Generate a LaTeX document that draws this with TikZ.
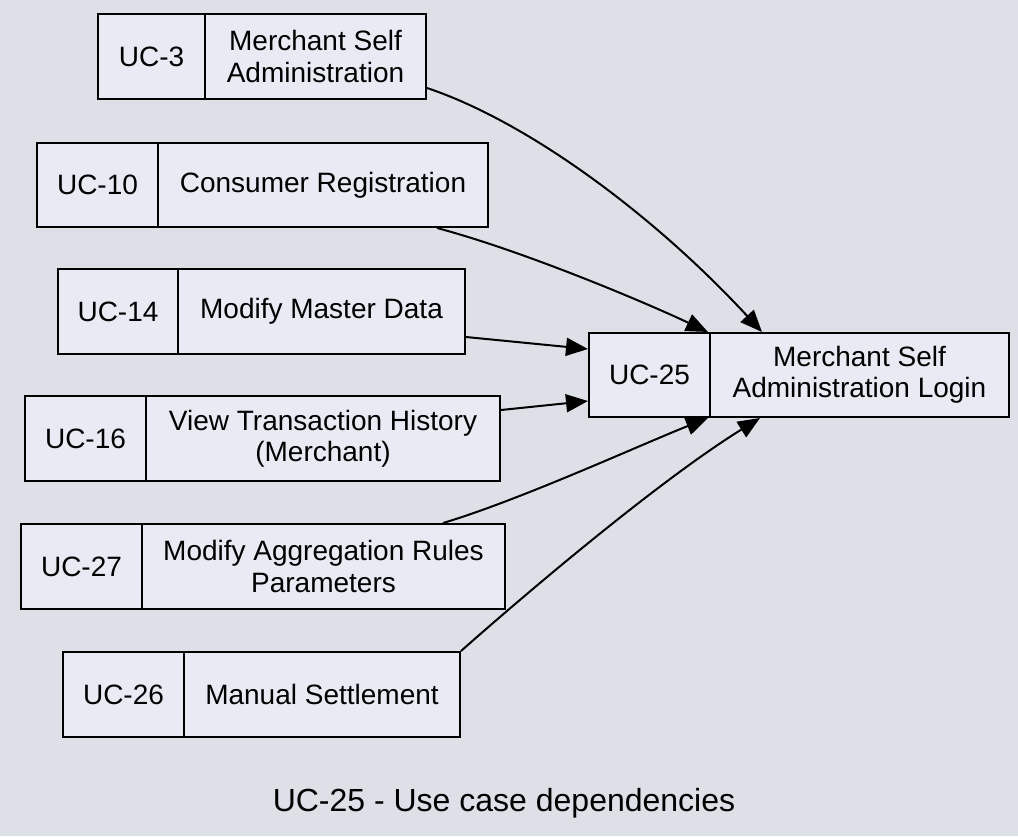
\documentclass[tikz,border=0pt]{standalone}
\usepackage{fontspec}
\setmainfont{Liberation Sans}
\usetikzlibrary{arrows.meta,calc}
\definecolor{bgc}{RGB}{222,224,231}
\definecolor{boxc}{RGB}{232,235,244}
\tikzset{
  cell/.style={draw=black, fill=boxc, line width=2pt, rectangle, inner sep=0pt,
    align=center, font=\fontsize{28}{31.5}\selectfont},
  dep/.style={draw=black, line width=2pt, -{Triangle[length=22pt,width=18pt]}},
  title/.style={font=\fontsize{32}{36}\selectfont}
}
\begin{document}
\begin{tikzpicture}[x=1pt,y=-1pt]
\useasboundingbox (0,0) rectangle (1018,836);
\fill[bgc] (0,0) rectangle (1018,836);
% UC-3
\node[cell, minimum width=107pt, minimum height=85pt] (uc3i) at (151.5,56.5) {UC-3};
\node[cell, minimum width=221pt, minimum height=85pt] (uc3n) at (315.5,56.5) {Merchant Self\\Administration};
% UC-10
\node[cell, minimum width=121pt, minimum height=84pt] (uc10i) at (97.5,185) {UC-10};
\node[cell, minimum width=330pt, minimum height=84pt] (uc10n) at (323,185) {Consumer Registration};
% UC-14
\node[cell, minimum width=120pt, minimum height=85pt] (uc14i) at (118,311.5) {UC-14};
\node[cell, minimum width=287pt, minimum height=85pt] (uc14n) at (321.5,311.5) {Modify Master Data};
% UC-16
\node[cell, minimum width=121pt, minimum height=85pt] (uc16i) at (85.5,438.5) {UC-16};
\node[cell, minimum width=354pt, minimum height=85pt] (uc16n) at (323,438.5) {View Transaction History\\(Merchant)};
% UC-27
\node[cell, minimum width=121pt, minimum height=85pt] (uc27i) at (81.5,566.5) {UC-27};
\node[cell, minimum width=363pt, minimum height=85pt] (uc27n) at (323.5,566.5) {Modify Aggregation Rules\\Parameters};
% UC-26
\node[cell, minimum width=121pt, minimum height=85pt] (uc26i) at (123.5,694.5) {UC-26};
\node[cell, minimum width=276pt, minimum height=85pt] (uc26n) at (322,694.5) {Manual Settlement};
% UC-25
\node[cell, minimum width=121pt, minimum height=84pt] (uc25i) at (649.5,375) {UC-25};
\node[cell, minimum width=299pt, minimum height=84pt] (uc25n) at (859.5,375) {Merchant Self\\Administration Login};
% title
\node[title] (ttl) at (504,803) {UC-25 - Use case dependencies};
% connectors
\draw[dep] ([yshift=-31.5pt]uc3n.east) .. controls (526,121) and (652,213) .. ([xshift=-97.5pt]uc25n.north);
\draw[dep] ([xshift=114pt]uc10n.south) .. controls (520,250) and (640,300) .. ([xshift=-3pt]uc25i.north east);
\draw[dep] ([yshift=-25.5pt]uc14n.east) -- ([yshift=26pt]uc25i.west);
\draw[dep] ([yshift=28.5pt]uc16n.east) -- ([yshift=-26pt]uc25i.west);
\draw[dep] ([xshift=119.5pt]uc27n.north) .. controls (520,500) and (640,445) .. ([xshift=-3pt]uc25i.south east);
\draw[dep] (uc26n.north east) .. controls (530,590) and (660,480) .. ([xshift=-99.5pt]uc25n.south);
\end{tikzpicture}
\end{document}
